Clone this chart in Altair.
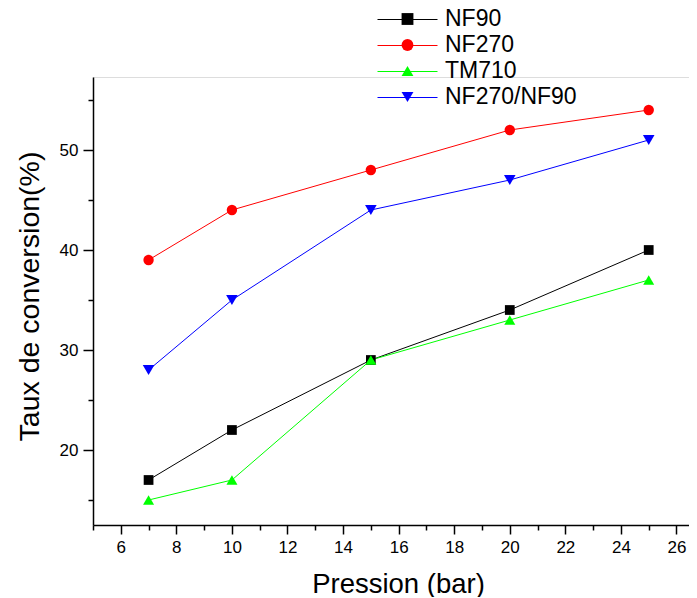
import altair as alt
import pandas as pd

pressure = [7, 10, 15, 20, 25]
series = ["NF90", "NF270", "TM710", "NF270/NF90"]
nf90 = [17, 22, 29, 34, 40]
nf270 = [39, 44, 48, 52, 54]
tm710 = [15, 17, 29, 33, 37]
nf270_nf90 = [28, 35, 44, 47, 51]

colors = ["#000000", "#FF0000", "#00FF00", "#0000FF"]
shapes = ["square", "circle", "triangle-up", "triangle-down"]
sizes = [95, 135, 220, 220]

values = [nf90, nf270, tm710, nf270_nf90]
line_keys = [s + " (ligne)" for s in series]
rows = []
for i, (name, vals) in enumerate(zip(series, values)):
    for p, v in zip(pressure, vals):
        rows.append({"Pression": p, "Taux": v, "Ligne": line_keys[i], "Membrane": name, "order": i})
df = pd.DataFrame(rows)

FONT = "Liberation Sans"

x_axis = alt.Axis(
    title="Pression (bar)",
    values=list(range(5, 27)),
    labelExpr="datum.value % 2 === 0 ? datum.label : ''",
    tickSize={"condition": {"test": "datum.value % 2 === 0", "value": 9}, "value": 5},
    labelFontSize=17, labelFont=FONT, labelColor="#000000", labelPadding=5,
    labelOverlap=False, labelFlush=False,
    titleFontSize=27.5, titleFont=FONT, titleFontWeight="normal", titleColor="#000000",
    titleX=305, titleY=67, titleBaseline="alphabetic", titleAlign="center",
    grid=False, domainColor="#000000", domainWidth=1.5, tickColor="#000000", tickWidth=1.5,
)
y_axis = alt.Axis(
    title="Taux de conversion(%)",
    values=[15, 20, 25, 30, 35, 40, 45, 50, 55],
    labelExpr="datum.value % 10 === 0 ? datum.label : ''",
    tickSize={"condition": {"test": "datum.value % 10 === 0", "value": 10}, "value": 5},
    labelFontSize=17, labelFont=FONT, labelColor="#000000", labelPadding=5,
    labelOverlap=False, labelFlush=False,
    titleFontSize=28.5, titleFont=FONT, titleFontWeight="normal", titleColor="#000000",
    titleX=-64, titleY=219, titleBaseline="middle", titleAlign="center", titleAngle=270,
    grid=False, domainColor="#000000", domainWidth=1.5, tickColor="#000000", tickWidth=1.5,
)

xs = alt.X("Pression:Q", scale=alt.Scale(domain=[5, 26.45], nice=False, zero=False), axis=x_axis)
ys = alt.Y("Taux:Q", scale=alt.Scale(domain=[12.5, 57.3], nice=False, zero=False), axis=y_axis)

lines = alt.Chart(df).mark_line(strokeWidth=1).encode(
    x=xs, y=ys,
    stroke=alt.Stroke(
        "Ligne:N",
        scale=alt.Scale(domain=line_keys, range=colors),
        legend=alt.Legend(
            orient="none", legendX=302, legendY=-70, title=None, padding=0,
            symbolType="M-5,0L5,0", symbolSize=144, symbolStrokeWidth=1,
            rowPadding=0, labelFontSize=25, labelExpr="''", labelOffset=0,
        ),
    ),
    order="order:Q",
)

point_legend = alt.Legend(
    orient="none", legendX=303, legendY=-69.5, title=None, padding=0,
    symbolSize=140, symbolStrokeWidth=0, rowPadding=2,
    labelFontSize=23, labelFont=FONT, labelColor="#000000", labelOffset=26,
)

points = alt.Chart(df).mark_point(filled=True, opacity=1).encode(
    x=xs, y=ys,
    fill=alt.Fill("Membrane:N", scale=alt.Scale(domain=series, range=colors), legend=point_legend),
    shape=alt.Shape("Membrane:N", scale=alt.Scale(domain=series, range=shapes), legend=point_legend),
    size=alt.Size("Ligne:N", scale=alt.Scale(domain=line_keys, range=sizes), legend=None),
    order="order:Q",
)

chart = alt.layer(lines, points).resolve_scale(
    fill="independent", shape="independent", size="independent"
).resolve_legend(fill="independent", stroke="independent", shape="independent").properties(
    width=596, height=448,
    autosize=alt.AutoSizeParams(type="none"),
    padding={"left": 85, "top": 69, "right": 0, "bottom": 72},
).configure_view(stroke=None).configure(background="#ffffff")

chart.save("out.html", embed_options={"renderer": "svg", "actions": False})
